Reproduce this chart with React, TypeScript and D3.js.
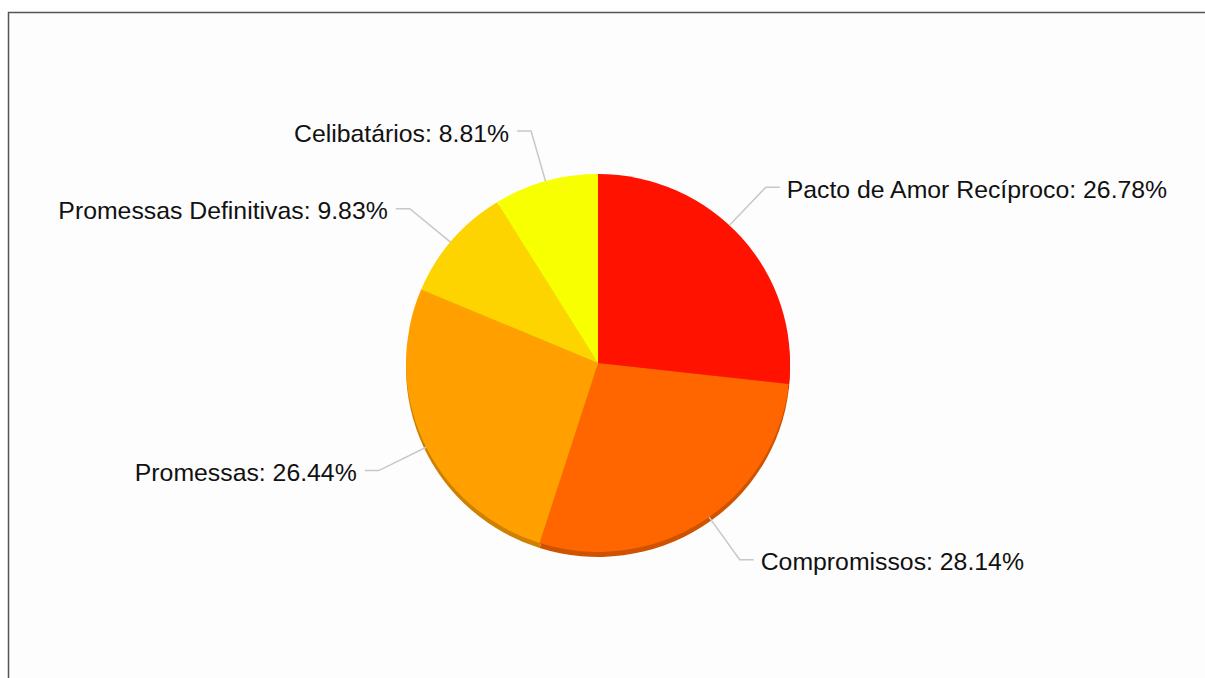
import React from "react";
import * as d3 from "d3";

const categories = [
  "Pacto de Amor Recíproco",
  "Compromissos",
  "Promessas",
  "Promessas Definitivas",
  "Celibatários",
];
const values = [26.78, 28.14, 26.44, 9.83, 8.81];
const colors = ["#ff1200", "#ff6600", "#ffa000", "#fdd300", "#f8ff00"];

// layout tweaks for label placement (degrees added to slice mid-angle)
const labelNudge = [-5, -2.4, -1.8, -0.8, 0];

const W = 1205;
const H = 678;
const cx = 598;
const cy = 363;
const R = 192;
const yScale = 0.984;
const depth = 5;
const elbowR = 245;

export default function App() {
  const data = categories.map((c, i) => ({ name: c, value: values[i], color: colors[i] }));
  const pie = d3.pie<any>().sort(null).value((d: any) => d.value);
  const arcs = pie(data);
  const arc = d3.arc<any>().innerRadius(0).outerRadius(R);

  const pt = (ang: number, r: number) => [
    cx + r * Math.sin(ang),
    cy - r * Math.cos(ang) * yScale,
  ];

  return (
    <div style={{ position: "absolute", left: 0, top: 0 }}>
      <svg width={W} height={H} style={{ display: "block" }}>
        <rect x={0} y={0} width={W} height={H} fill="#ffffff" />
        <rect x={8.5} y={12.5} width={W + 50} height={H + 50} fill="#fdfdfd" stroke="#555" strokeWidth={1.5} />
        {/* depth layer */}
        <g transform={`translate(${cx},${cy + depth}) scale(1,${yScale})`}>
          {arcs.map((a, i) => (
            <path key={i} d={arc(a) as string} fill={d3.color(a.data.color)!.darker(0.6).toString()} />
          ))}
        </g>
        <g transform={`translate(${cx},${cy}) scale(1,${yScale})`}>
          {arcs.map((a, i) => (
            <path key={i} d={arc(a) as string} fill={a.data.color} />
          ))}
        </g>
        {arcs.map((a, i) => {
          const mid = (a.startAngle + a.endAngle) / 2 + (labelNudge[i] * Math.PI) / 180;
          const [x0, y0] = pt(mid, R);
          const [x1, y1] = pt(mid, elbowR);
          const right = Math.sin(mid) >= 0;
          const x2 = right ? x1 + 14 : x1 - 14;
          const tx = right ? x2 + 7 : x2 - 8;
          const label = `${a.data.name}: ${a.data.value.toFixed(2)}%`;
          return (
            <g key={i}>
              <polyline
                points={`${x0},${y0} ${x1},${y1} ${x2},${y1}`}
                fill="none"
                stroke="#c8c8c8"
                strokeWidth={1.5}
              />
              <text
                x={tx}
                y={y1 + 10.5}
                textAnchor={right ? "start" : "end"}
                fontFamily="'Liberation Sans', Arial, sans-serif"
                fontSize={24.8}
                fill="#111"
              >
                {label}
              </text>
            </g>
          );
        })}
      </svg>
    </div>
  );
}
